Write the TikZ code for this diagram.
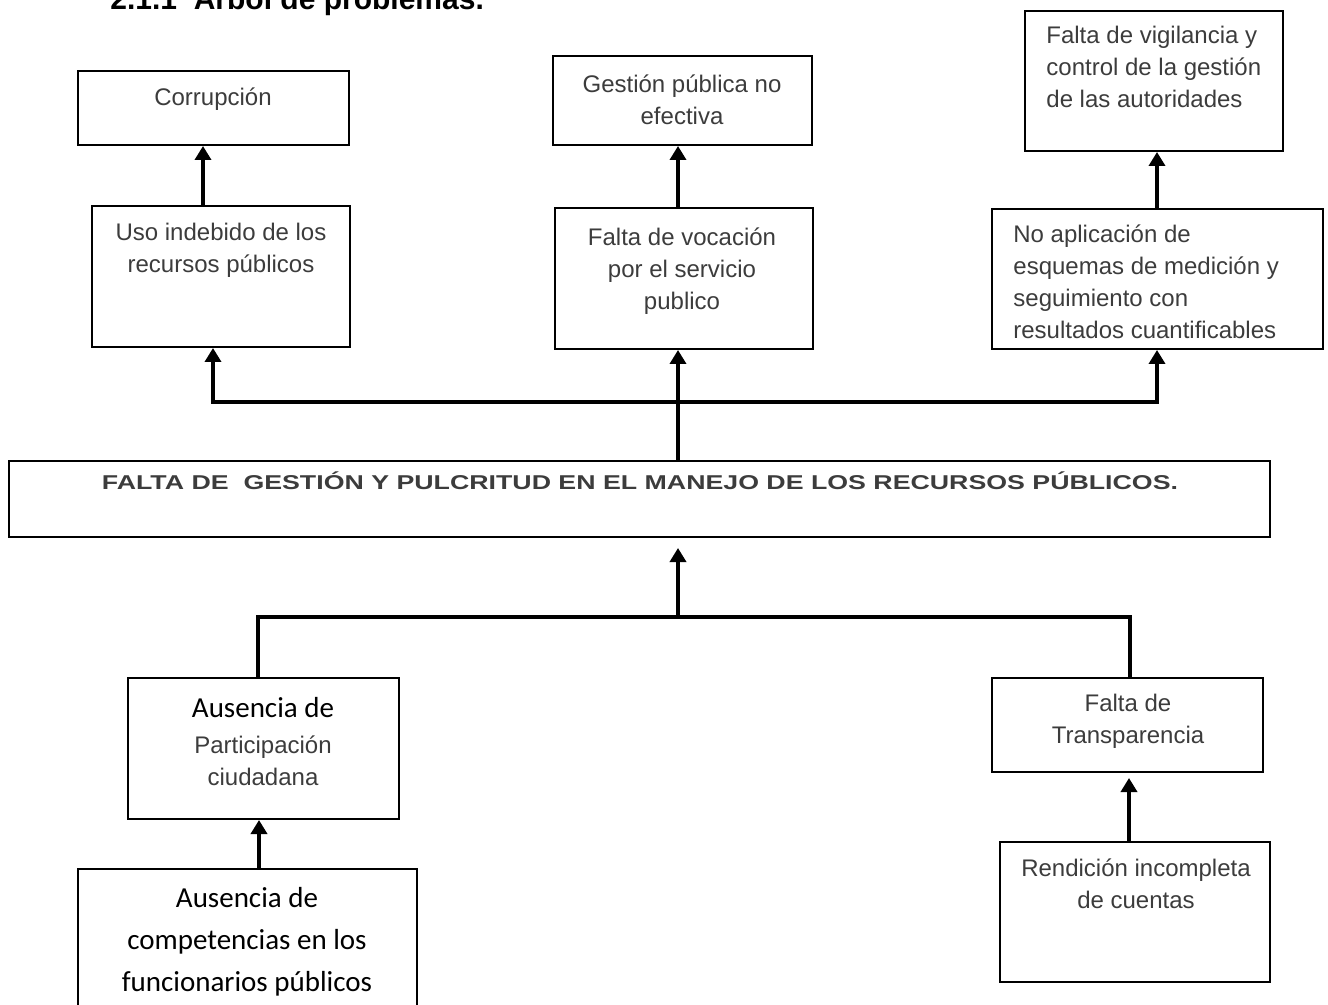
\documentclass[tikz,border=0pt]{standalone}
\usepackage{graphicx}
\usepackage{fontspec}
\setmainfont{Liberation Sans}
\newfontfamily\calibri{Carlito}
\usetikzlibrary{arrows.meta}
\definecolor{txtgray}{HTML}{3C3C3C}

\tikzset{
  box/.style={draw, line width=1pt, inner sep=0pt},
  txt/.style={inner sep=0pt, align=center, anchor=north, text=txtgray, font=\fontsize{12}{16}\selectfont},
  txtl/.style={txt, align=left, anchor=north west},
  arr/.style={line width=2pt, -{Triangle[width=8pt,length=7pt]}},
  link/.style={line width=1.6pt},
}

\begin{document}
\begin{tikzpicture}[x=1pt, y=-1pt]
\useasboundingbox (0,0) rectangle (664,502.5);

% heading, cut by the page top
\node[anchor=base west, inner sep=0pt, font=\bfseries\fontsize{15}{17}\selectfont] (title) at (55,4.7) {2.1.1\ \ Árbol de problemas.};

% effects
\node[box, minimum width=135.5pt, minimum height=37pt] (corr) at (106.75,54) {};
\node[txt] (corr-t) at (106.5,43.5) {Corrupción};
\node[box, minimum width=129.5pt, minimum height=44.5pt] (gest) at (341.25,50.25) {};
\node[txt] (gest-t) at (341,37) {Gestión pública no\\efectiva};
\node[box, minimum width=129pt, minimum height=70pt] (vig) at (577,40.5) {};
\node[txtl] (vig-t) at (523,13) {Falta de vigilancia y\\control de la gestión\\de las autoridades};

\node[box, minimum width=129pt, minimum height=70.5pt] (uso) at (110.5,138.25) {};
\node[txt] (uso-t) at (110.5,111.5) {Uso indebido de los\\recursos públicos};
\node[box, minimum width=129pt, minimum height=70.5pt] (voc) at (342,139.25) {};
\node[txt] (voc-t) at (341,113.5) {Falta de vocación\\por el servicio\\publico};
\node[box, minimum width=165.5pt, minimum height=70pt] (noap) at (578.75,139.5) {};
\node[txtl] (noap-t) at (506.5,112) {No aplicación de\\esquemas de medición y\\seguimiento con\\resultados cuantificables};

% central problem
\node[box, minimum width=630.5pt, minimum height=38pt] (main) at (319.75,249.5) {};
\node[txt, font=\bfseries\fontsize{10}{12}\selectfont] (main-t) at (320,235.6) {\resizebox{538pt}{\height}{FALTA DE\ \ GESTIÓN Y PULCRITUD EN EL MANEJO DE LOS RECURSOS PÚBLICOS.}};

% causes
\node[box, minimum width=135.5pt, minimum height=70.5pt] (aus) at (131.75,374.25) {};
\node[txt] (aus-t) at (131.5,348.7) {{\calibri\color{black}\fontsize{14.5}{18}\selectfont Ausencia de}\\[1.7pt]Participación\\ciudadana};
\node[box, minimum width=169.5pt, minimum height=75.5pt] (comp) at (123.75,472.25) {};
\node[txt, text=black, font=\calibri\fontsize{14.5}{21}\selectfont] (comp-t) at (123.5,443.5) {Ausencia de\\competencias en los\\funcionarios públicos};
\node[box, minimum width=135.5pt, minimum height=47pt] (transp) at (563.75,362.5) {};
\node[txt] (transp-t) at (564,347) {Falta de\\Transparencia};
\node[box, minimum width=135pt, minimum height=70pt] (rend) at (567.5,456) {};
\node[txt] (rend-t) at (568,429) {Rendición incompleta\\de cuentas};

% upper tree
\coordinate (hub) at (339,201);
\draw[arr] (101.5,0 |- uso.north) -- (101.5,0 |- corr.south);
\draw[arr] (339,0 |- voc.north) -- (339,0 |- gest.south);
\draw[arr] (578.5,0 |- noap.north) -- (578.5,0 |- vig.south);
\draw[arr] (339,0 |- main.north) -- (339,0 |- voc.south);
\draw[arr] (hub) -| (106.5,0 |- uso.south);
\draw[arr] (hub) -| (578.5,0 |- noap.south);

% lower tree
\coordinate (root) at (339,308.5);
\draw[arr, shorten >=5pt] (root) -- (339,0 |- main.south);
\draw[link] (129,0 |- aus.north) |- (root) -| (565,0 |- transp.north);
\draw[arr] (129.5,0 |- comp.north) -- (129.5,0 |- aus.south);
\draw[arr, shorten >=2.5pt] (564.5,0 |- rend.north) -- (564.5,0 |- transp.south);
\end{tikzpicture}
\end{document}
